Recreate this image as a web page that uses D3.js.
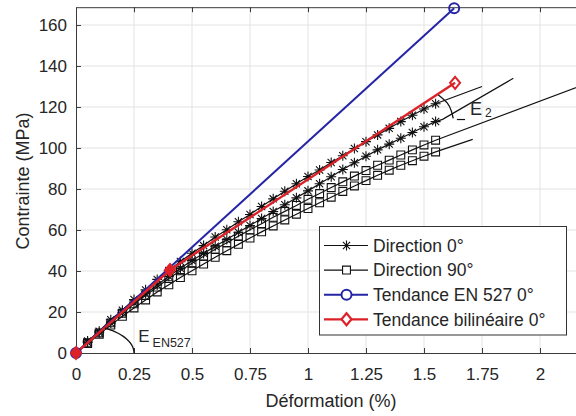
<!DOCTYPE html>
<html>
<head>
<meta charset="utf-8">
<script src="https://cdn.jsdelivr.net/npm/d3@7"></script>
<style>
  body { margin: 0; background: #fff; }
  text { font-family: "Liberation Sans", Arial, sans-serif; fill: #262626; }
</style>
</head>
<body>
<svg id="chart" width="576" height="416"></svg>
<script>
// strain values (%) where the markers of the test curves sit
const strain = [0, 0.05, 0.10, 0.15, 0.20, 0.25, 0.30, 0.35, 0.40, 0.45, 0.50, 0.55, 0.60, 0.65, 0.70, 0.75,
                0.80, 0.85, 0.90, 0.95, 1.00, 1.05, 1.10, 1.15, 1.20, 1.25, 1.30, 1.35, 1.40, 1.45, 1.50, 1.55];

// Direction 0° specimens (MPa)
const dir0a = [0, 5.8, 10.6, 16.2, 20.9, 26.1, 30.8, 35.9, 40.2, 44.6, 48.7, 52.4, 56.6, 60.1, 64.0, 67.6,
               71.5, 75.2, 78.9, 82.6, 86.1, 89.3, 92.9, 96.2, 99.8, 103.1, 106.4, 109.6, 112.9, 116.0, 119.0, 121.6];
const dir0b = [0, 5.1, 9.9, 14.6, 19.8, 24.4, 28.9, 33.2, 37.4, 41.3, 45.1, 48.6, 52.1, 55.4, 58.9, 62.2,
               65.6, 69.0, 72.3, 75.7, 79.1, 82.6, 86.0, 89.5, 92.8, 96.0, 99.1, 101.9, 104.8, 107.6, 110.4, 112.9];
// Direction 90° specimens (MPa)
const dir90a = [0, 5.0, 9.8, 14.7, 19.4, 24.0, 28.1, 32.2, 36.3, 40.1, 43.8, 47.2, 50.6, 53.8, 57.0, 60.1,
                63.1, 66.2, 69.1, 72.0, 75.0, 77.8, 80.7, 83.5, 86.3, 89.0, 91.6, 94.1, 96.6, 99.1, 101.5, 103.8];
const dir90b = [0, 4.6, 9.1, 13.6, 17.9, 22.0, 25.9, 29.8, 33.3, 36.8, 40.1, 43.4, 46.7, 49.9, 53.0, 56.1,
                59.1, 62.0, 64.9, 67.7, 70.5, 73.3, 76.0, 78.8, 81.5, 84.1, 86.7, 89.2, 91.6, 93.8, 96.0, 98.1];

// end of each curve, drawn without markers [strain, stress]
const dir0aTail = [[1.55, 121.6], [1.75, 130.0]];
const dir0bTail = [[1.55, 112.9], [1.58, 114.0], [1.885, 134.0]];
const dir90aTail = [[1.55, 103.8], [2.25, 133.5]];
const dir90bTail = [[1.55, 98.1], [1.71, 104.2]];

// trend lines
const en527X = [0, 1.63];
const en527Y = [0, 168.2];
const bilinX = [0, 0.405, 1.634];
const bilinY = [0, 40.5, 131.8];

// annotation E2 arc [strain, stress]
const e2Arc = [[1.562, 125.9], [1.600, 122.0], [1.618, 118.0], [1.626, 114.5]];

const xTicks = [0, 0.25, 0.5, 0.75, 1, 1.25, 1.5, 1.75, 2];
const xTickLabels = ["0", "0.25", "0.5", "0.75", "1", "1.25", "1.5", "1.75", "2"];
const yTicks = [0, 20, 40, 60, 80, 100, 120, 140, 160];

const legendNames = ["Direction 0°", "Direction 90°", "Tendance EN 527 0°", "Tendance bilinéaire 0°"];

const blue = "#2424a6", red = "#dc2228";

const svg = d3.select("#chart");
const x = d3.scaleLinear().domain([0, 2.2]).range([76, 586.4]);
const y = d3.scaleLinear().domain([0, 168.7]).range([353, 7.2]);

svg.append("defs").append("clipPath").attr("id", "plot")
   .append("rect").attr("x", 76).attr("y", 6).attr("width", 511).attr("height", 348);

// grid
const grid = svg.append("g").attr("stroke", "#e3e3e3").attr("stroke-width", 1);
grid.selectAll(".gx").data(xTicks.slice(1)).enter().append("line")
    .attr("x1", d => x(d)).attr("x2", d => x(d)).attr("y1", y(0)).attr("y2", y.range()[1]);
grid.selectAll(".gy").data(yTicks.slice(1)).enter().append("line")
    .attr("x1", x(0)).attr("x2", x.range()[1]).attr("y1", d => y(d)).attr("y2", d => y(d));

// axes
function styleAxis(g) {
  g.select(".domain").attr("stroke", "#3a3a3a");
  g.selectAll(".tick line").attr("stroke", "#3a3a3a");
  g.selectAll(".tick text").attr("fill", "#262626").style("font-size", "17px")
   .style("font-family", '"Liberation Sans", Arial, sans-serif');
}
svg.append("g").attr("transform", `translate(0,${y(0)})`)
   .call(d3.axisBottom(x).tickValues(xTicks).tickFormat((d, i) => xTickLabels[i])
         .tickSizeInner(-5).tickSizeOuter(0).tickPadding(15))
   .call(styleAxis);
svg.append("g").attr("transform", `translate(0,${y.range()[1]})`)
   .call(d3.axisTop(x).tickValues(xTicks).tickFormat("").tickSizeInner(-5).tickSizeOuter(0))
   .call(styleAxis);
svg.append("g").attr("transform", `translate(${x(0)},0)`)
   .call(d3.axisLeft(y).tickValues(yTicks).tickSizeInner(-5).tickSizeOuter(0).tickPadding(9))
   .call(styleAxis);

svg.append("text").attr("x", 331).attr("y", 407).attr("text-anchor", "middle")
   .style("font-size", "18px").text("Déformation (%)");
svg.append("text").attr("transform", "translate(29,181) rotate(-90)").attr("text-anchor", "middle")
   .style("font-size", "18px").text("Contrainte (MPa)");

// markers
const star = d3.symbol().type({
  draw(ctx, size) {
    const s = Math.sqrt(size) / 2, a = s * 0.72;
    ctx.moveTo(-s, 0); ctx.lineTo(s, 0);
    ctx.moveTo(0, -s); ctx.lineTo(0, s);
    ctx.moveTo(-a, -a); ctx.lineTo(a, a);
    ctx.moveTo(-a, a); ctx.lineTo(a, -a);
  }
}).size(100)();
const square = d3.symbol().type(d3.symbolSquare).size(62)();
const diamond = d3.symbol().type({
  draw(ctx) { ctx.moveTo(0, -6); ctx.lineTo(5, 0); ctx.lineTo(0, 6); ctx.lineTo(-5, 0); ctx.closePath(); }
})();

const plot = svg.append("g").attr("clip-path", "url(#plot)");
const line = d3.line().x(d => x(d[0])).y(d => y(d[1]));

const specimens = [
  { vals: dir90b, tail: dir90bTail, mark: square },
  { vals: dir90a, tail: dir90aTail, mark: square },
  { vals: dir0b, tail: dir0bTail, mark: star },
  { vals: dir0a, tail: dir0aTail, mark: star }
];
specimens.forEach(s => {
  const pts = strain.map((e, i) => [e, s.vals[i]]);
  plot.append("path").attr("d", line(pts.concat(s.tail.slice(1))))
      .attr("fill", "none").attr("stroke", "#111").attr("stroke-width", 1.2);
  plot.selectAll(null).data(pts).enter().append("path")
      .attr("d", s.mark).attr("transform", d => `translate(${x(d[0])},${y(d[1])})`)
      .attr("fill", "none").attr("stroke", "#111").attr("stroke-width", 1.1);
});

// EN 527 trend
const en527 = en527X.map((e, i) => [e, en527Y[i]]);
plot.append("path").attr("d", line(en527)).attr("fill", "none").attr("stroke", blue).attr("stroke-width", 2);
svg.selectAll(".c527").data(en527).enter().append("circle")
   .attr("cx", d => x(d[0])).attr("cy", d => y(d[1])).attr("r", 5)
   .attr("fill", "none").attr("stroke", blue).attr("stroke-width", 2);

// bilinear trend
const bilin = bilinX.map((e, i) => [e, bilinY[i]]);
plot.append("path").attr("d", line(bilin)).attr("fill", "none").attr("stroke", red).attr("stroke-width", 2.4);
svg.selectAll(".dbil").data(bilin).enter().append("path")
   .attr("d", diamond).attr("transform", d => `translate(${x(d[0])},${y(d[1])})`)
   .attr("fill", (d, i) => i < 2 ? red : "none").attr("stroke", red).attr("stroke-width", 2);

// E_EN527 angle (ellipse in data units)
const angles = d3.range(0, 61, 3).map(a => a * Math.PI / 180);
svg.append("path").attr("d", line(angles.map(t => [0.25 * Math.cos(t), 14 * Math.sin(t)])))
   .attr("fill", "none").attr("stroke", "#111").attr("stroke-width", 1.3);
svg.append("text").attr("x", x(0.268)).attr("y", y(5.4)).style("font-size", "17px").attr("fill", "#111").text("E");
svg.append("text").attr("x", x(0.33)).attr("y", y(2.9)).style("font-size", "12.5px").attr("fill", "#111").text("EN527");

// E2 angle
svg.append("path").attr("d", d3.line().curve(d3.curveNatural).x(d => x(d[0])).y(d => y(d[1]))(e2Arc))
   .attr("fill", "none").attr("stroke", "#111").attr("stroke-width", 1.3);
svg.append("line").attr("x1", x(1.642)).attr("x2", x(1.677)).attr("y1", y(113.9)).attr("y2", y(113.9))
   .attr("stroke", "#111").attr("stroke-width", 1.2);
svg.append("text").attr("x", x(1.698)).attr("y", y(116.1)).style("font-size", "18px").attr("fill", "#111").text("E");
svg.append("text").attr("x", x(1.763)).attr("y", y(115.1)).style("font-size", "12px").attr("fill", "#111").text("2");

// legend
const leg = svg.append("g").attr("transform", "translate(319.5,226.5)");
leg.append("rect").attr("width", 247).attr("height", 108.5).attr("fill", "#fff").attr("stroke", "#333").attr("stroke-width", 1);
const legStyle = [
  { color: "#111", mark: star, w: 1.1, fill: "none" },
  { color: "#111", mark: square, w: 1.1, fill: "none" },
  { color: blue, mark: null, w: 2, fill: "none" },
  { color: red, mark: diamond, w: 2.2, fill: "none" }
];
const rows = leg.selectAll(".row").data(legendNames).enter().append("g")
   .attr("transform", (d, i) => `translate(0,${19 + i * 24.6})`);
rows.append("line").attr("x1", 4.5).attr("x2", 48.5)
   .attr("stroke", (d, i) => legStyle[i].color).attr("stroke-width", (d, i) => legStyle[i].w);
rows.each(function (d, i) {
  const g = d3.select(this), st = legStyle[i];
  if (st.mark) g.append("path").attr("d", st.mark).attr("transform", "translate(27,0)")
                .attr("fill", "#fff").attr("stroke", st.color).attr("stroke-width", st.w);
  else g.append("circle").attr("cx", 27).attr("r", 5).attr("fill", "#fff").attr("stroke", st.color).attr("stroke-width", 2);
});
rows.append("text").attr("x", 53.5).attr("dy", "0.36em").style("font-size", "17.5px").attr("fill", "#1a1a1a").text(d => d);
</script>
</body>
</html>
